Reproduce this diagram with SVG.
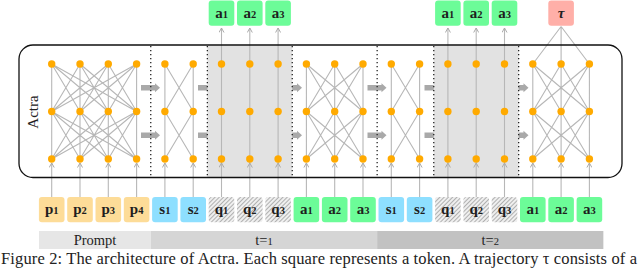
<svg xmlns="http://www.w3.org/2000/svg" xmlns:xlink="http://www.w3.org/1999/xlink" width="640" height="268" viewBox="0 0 640 268">
<defs>
<style>
.ln{stroke:#b7b7b7;stroke-width:1.1;fill:none}
.io{stroke:#b7b7b7;stroke-width:1.1;fill:none}
.nd{fill:#FFAA00}
.dot{stroke:#222;stroke-width:1.3;stroke-dasharray:1.3 2.7;fill:none}
.arr{fill:#a9a9a9}
.gr{fill:#e2e2e2}
.tk text{font-family:"Liberation Serif",serif;font-weight:bold;font-size:15px;fill:#1e1e1e;text-anchor:middle}
.tk tspan{font-size:10.5px}
.p{fill:#FDDC98}
.s{fill:#8EDFFF}
.a{fill:#6CFC98}
.q{fill:url(#hatch)}
.t{fill:#FFAFA8}
.bar text{font-family:"Liberation Serif",serif;font-size:14.5px;fill:#222;text-anchor:middle}
.bar tspan{font-size:10.5px}
</style>
<pattern id="hatch" width="3" height="3" patternUnits="userSpaceOnUse" patternTransform="rotate(45)">
<rect width="3" height="3" fill="#efefef"/>
<line x1="0.5" y1="0" x2="0.5" y2="3" stroke="#b0b0b0" stroke-width="1"/>
</pattern>
<marker id="chev" viewBox="0 0 6 6" refX="5" refY="3" markerWidth="6" markerHeight="6" markerUnits="userSpaceOnUse" orient="auto">
<path d="M0.5,0.5 L5,3 L0.5,5.5" fill="none" stroke="#aaaaaa" stroke-width="1"/>
</marker>
<path id="ar" d="M0,-2.7 H14 V-4.5 L19,0 L14,4.5 V2.7 H0 Z"/>
</defs>

<g id="flow-arrows" class="arr">
<use xlink:href="#ar" x="141" y="87.75"/><use xlink:href="#ar" x="141" y="135.25"/>
<use xlink:href="#ar" x="198" y="87.75"/><use xlink:href="#ar" x="198" y="135.25"/>
<use xlink:href="#ar" x="283" y="87.75"/><use xlink:href="#ar" x="283" y="135.25"/>
<use xlink:href="#ar" x="367.5" y="87.75"/><use xlink:href="#ar" x="367.5" y="135.25"/>
<use xlink:href="#ar" x="424.5" y="87.75"/><use xlink:href="#ar" x="424.5" y="135.25"/>
<use xlink:href="#ar" x="509.5" y="87.75"/><use xlink:href="#ar" x="509.5" y="135.25"/>
</g>

<g id="grey-regions">
<rect class="gr" x="207.35" y="45.5" width="84.9" height="131.5"/>
<rect class="gr" x="433.75" y="45.5" width="84.9" height="131.5"/>
</g>

<g id="separators">
<path class="dot" d="M150.75 46V176 M207.35 46V176 M292.25 46V176 M377.15 46V176 M433.75 46V176 M518.65 46V176"/>
</g>

<g id="connectors">
<path class="ln" d="M51.7 64L51.7 111.5M51.7 64L80 111.5M51.7 64L108.3 111.5M51.7 64L136.6 111.5M80 64L51.7 111.5M80 64L80 111.5M80 64L108.3 111.5M80 64L136.6 111.5M108.3 64L51.7 111.5M108.3 64L80 111.5M108.3 64L108.3 111.5M108.3 64L136.6 111.5M136.6 64L51.7 111.5M136.6 64L80 111.5M136.6 64L108.3 111.5M136.6 64L136.6 111.5
M51.7 111.5L51.7 159M51.7 111.5L80 159M51.7 111.5L108.3 159M51.7 111.5L136.6 159M80 111.5L51.7 159M80 111.5L80 159M80 111.5L108.3 159M80 111.5L136.6 159M108.3 111.5L51.7 159M108.3 111.5L80 159M108.3 111.5L108.3 159M108.3 111.5L136.6 159M136.6 111.5L51.7 159M136.6 111.5L80 159M136.6 111.5L108.3 159M136.6 111.5L136.6 159"/>
<path class="ln" d="M164.9 64V159M193.2 64V159M164.9 64L193.2 111.5M193.2 64L164.9 111.5M164.9 111.5L193.2 159M193.2 111.5L164.9 159"/>
<path class="ln" d="M306.4 64V159M334.7 64V159M363 64V159M306.4 64L334.7 111.5M306.4 64L363 111.5M334.7 64L306.4 111.5M334.7 64L363 111.5M363 64L306.4 111.5M363 64L334.7 111.5M306.4 111.5L334.7 159M306.4 111.5L363 159M334.7 111.5L306.4 159M334.7 111.5L363 159M363 111.5L306.4 159M363 111.5L334.7 159"/>
<path class="ln" d="M391.3 64V159M419.6 64V159M391.3 64L419.6 111.5M419.6 64L391.3 111.5M391.3 111.5L419.6 159M419.6 111.5L391.3 159"/>
<path class="ln" d="M532.8 64V159M561.1 64V159M589.4 64V159M532.8 64L561.1 111.5M532.8 64L589.4 111.5M561.1 64L532.8 111.5M561.1 64L589.4 111.5M589.4 64L532.8 111.5M589.4 64L561.1 111.5M532.8 111.5L561.1 159M532.8 111.5L589.4 159M561.1 111.5L532.8 159M561.1 111.5L589.4 159M589.4 111.5L532.8 159M589.4 111.5L561.1 159"/>
<path class="ln" d="M532.8 64L561.1 26.5M561.1 64L561.1 26.5M589.4 64L561.1 26.5"/>
<g class="io" marker-end="url(#chev)">
<path d="M51.7 197V163"/><path d="M80 197V163"/><path d="M108.3 197V163"/><path d="M136.6 197V163"/>
<path d="M164.9 197V163"/><path d="M193.2 197V163"/>
<path d="M306.4 197V163"/><path d="M334.7 197V163"/><path d="M363 197V163"/>
<path d="M391.3 197V163"/><path d="M419.6 197V163"/>
<path d="M532.8 197V163"/><path d="M561.1 197V163"/><path d="M589.4 197V163"/>
</g>
<g class="io" marker-mid="url(#chev)" marker-end="url(#chev)">
<path d="M221.5 197L221.5 163L221.5 28"/><path d="M249.8 197L249.8 163L249.8 28"/><path d="M278.1 197L278.1 163L278.1 28"/>
<path d="M447.9 197L447.9 163L447.9 28"/><path d="M476.2 197L476.2 163L476.2 28"/><path d="M504.5 197L504.5 163L504.5 28"/>
</g>
</g>

<g id="actra-nodes" class="nd">
<circle cx="51.7" cy="64" r="3.7"/><circle cx="80" cy="64" r="3.7"/><circle cx="108.3" cy="64" r="3.7"/><circle cx="136.6" cy="64" r="3.7"/><circle cx="164.9" cy="64" r="3.7"/><circle cx="193.2" cy="64" r="3.7"/><circle cx="221.5" cy="64" r="3.7"/><circle cx="249.8" cy="64" r="3.7"/><circle cx="278.1" cy="64" r="3.7"/><circle cx="306.4" cy="64" r="3.7"/><circle cx="334.7" cy="64" r="3.7"/><circle cx="363" cy="64" r="3.7"/><circle cx="391.3" cy="64" r="3.7"/><circle cx="419.6" cy="64" r="3.7"/><circle cx="447.9" cy="64" r="3.7"/><circle cx="476.2" cy="64" r="3.7"/><circle cx="504.5" cy="64" r="3.7"/><circle cx="532.8" cy="64" r="3.7"/><circle cx="561.1" cy="64" r="3.7"/><circle cx="589.4" cy="64" r="3.7"/>
<circle cx="51.7" cy="111.5" r="3.7"/><circle cx="80" cy="111.5" r="3.7"/><circle cx="108.3" cy="111.5" r="3.7"/><circle cx="136.6" cy="111.5" r="3.7"/><circle cx="164.9" cy="111.5" r="3.7"/><circle cx="193.2" cy="111.5" r="3.7"/><circle cx="221.5" cy="111.5" r="3.7"/><circle cx="249.8" cy="111.5" r="3.7"/><circle cx="278.1" cy="111.5" r="3.7"/><circle cx="306.4" cy="111.5" r="3.7"/><circle cx="334.7" cy="111.5" r="3.7"/><circle cx="363" cy="111.5" r="3.7"/><circle cx="391.3" cy="111.5" r="3.7"/><circle cx="419.6" cy="111.5" r="3.7"/><circle cx="447.9" cy="111.5" r="3.7"/><circle cx="476.2" cy="111.5" r="3.7"/><circle cx="504.5" cy="111.5" r="3.7"/><circle cx="532.8" cy="111.5" r="3.7"/><circle cx="561.1" cy="111.5" r="3.7"/><circle cx="589.4" cy="111.5" r="3.7"/>
<circle cx="51.7" cy="159" r="3.7"/><circle cx="80" cy="159" r="3.7"/><circle cx="108.3" cy="159" r="3.7"/><circle cx="136.6" cy="159" r="3.7"/><circle cx="164.9" cy="159" r="3.7"/><circle cx="193.2" cy="159" r="3.7"/><circle cx="221.5" cy="159" r="3.7"/><circle cx="249.8" cy="159" r="3.7"/><circle cx="278.1" cy="159" r="3.7"/><circle cx="306.4" cy="159" r="3.7"/><circle cx="334.7" cy="159" r="3.7"/><circle cx="363" cy="159" r="3.7"/><circle cx="391.3" cy="159" r="3.7"/><circle cx="419.6" cy="159" r="3.7"/><circle cx="447.9" cy="159" r="3.7"/><circle cx="476.2" cy="159" r="3.7"/><circle cx="504.5" cy="159" r="3.7"/><circle cx="532.8" cy="159" r="3.7"/><circle cx="561.1" cy="159" r="3.7"/><circle cx="589.4" cy="159" r="3.7"/>
</g>

<g id="actra-box">
<rect x="19" y="45" width="603" height="132.5" rx="14" fill="none" stroke="#111" stroke-width="1.3"/>
<text transform="translate(38,112) rotate(-90)" text-anchor="middle" font-family="'Liberation Serif',serif" font-size="15" fill="#222">Actra</text>
</g>

<g id="input-tokens" class="tk">
<g id="in-p1"><rect class="p" x="38.9" y="197" width="25.6" height="25.3" rx="3"/><text x="51.7" y="214">p<tspan>1</tspan></text></g>
<g id="in-p2"><rect class="p" x="67.2" y="197" width="25.6" height="25.3" rx="3"/><text x="80" y="214">p<tspan>2</tspan></text></g>
<g id="in-p3"><rect class="p" x="95.5" y="197" width="25.6" height="25.3" rx="3"/><text x="108.3" y="214">p<tspan>3</tspan></text></g>
<g id="in-p4"><rect class="p" x="123.8" y="197" width="25.6" height="25.3" rx="3"/><text x="136.6" y="214">p<tspan>4</tspan></text></g>
<g id="in-s1-t1"><rect class="s" x="152.1" y="197" width="25.6" height="25.3" rx="3"/><text x="164.9" y="214">s<tspan>1</tspan></text></g>
<g id="in-s2-t1"><rect class="s" x="180.4" y="197" width="25.6" height="25.3" rx="3"/><text x="193.2" y="214">s<tspan>2</tspan></text></g>
<g id="in-q1-t1"><rect class="q" x="208.7" y="197" width="25.6" height="25.3" rx="3"/><text x="221.5" y="214">q<tspan>1</tspan></text></g>
<g id="in-q2-t1"><rect class="q" x="237" y="197" width="25.6" height="25.3" rx="3"/><text x="249.8" y="214">q<tspan>2</tspan></text></g>
<g id="in-q3-t1"><rect class="q" x="265.3" y="197" width="25.6" height="25.3" rx="3"/><text x="278.1" y="214">q<tspan>3</tspan></text></g>
<g id="in-a1-t1"><rect class="a" x="293.6" y="197" width="25.6" height="25.3" rx="3"/><text x="306.4" y="214">a<tspan>1</tspan></text></g>
<g id="in-a2-t1"><rect class="a" x="321.9" y="197" width="25.6" height="25.3" rx="3"/><text x="334.7" y="214">a<tspan>2</tspan></text></g>
<g id="in-a3-t1"><rect class="a" x="350.2" y="197" width="25.6" height="25.3" rx="3"/><text x="363" y="214">a<tspan>3</tspan></text></g>
<g id="in-s1-t2"><rect class="s" x="378.5" y="197" width="25.6" height="25.3" rx="3"/><text x="391.3" y="214">s<tspan>1</tspan></text></g>
<g id="in-s2-t2"><rect class="s" x="406.8" y="197" width="25.6" height="25.3" rx="3"/><text x="419.6" y="214">s<tspan>2</tspan></text></g>
<g id="in-q1-t2"><rect class="q" x="435.1" y="197" width="25.6" height="25.3" rx="3"/><text x="447.9" y="214">q<tspan>1</tspan></text></g>
<g id="in-q2-t2"><rect class="q" x="463.4" y="197" width="25.6" height="25.3" rx="3"/><text x="476.2" y="214">q<tspan>2</tspan></text></g>
<g id="in-q3-t2"><rect class="q" x="491.7" y="197" width="25.6" height="25.3" rx="3"/><text x="504.5" y="214">q<tspan>3</tspan></text></g>
<g id="in-a1-t2"><rect class="a" x="520" y="197" width="25.6" height="25.3" rx="3"/><text x="532.8" y="214">a<tspan>1</tspan></text></g>
<g id="in-a2-t2"><rect class="a" x="548.3" y="197" width="25.6" height="25.3" rx="3"/><text x="561.1" y="214">a<tspan>2</tspan></text></g>
<g id="in-a3-t2"><rect class="a" x="576.6" y="197" width="25.6" height="25.3" rx="3"/><text x="589.4" y="214">a<tspan>3</tspan></text></g>
</g>

<g id="output-tokens" class="tk">
<g id="out-a1-t1"><rect class="a" x="208.7" y="0.5" width="25.6" height="25.3" rx="3"/><text x="221.5" y="17.5">a<tspan>1</tspan></text></g>
<g id="out-a2-t1"><rect class="a" x="237" y="0.5" width="25.6" height="25.3" rx="3"/><text x="249.8" y="17.5">a<tspan>2</tspan></text></g>
<g id="out-a3-t1"><rect class="a" x="265.3" y="0.5" width="25.6" height="25.3" rx="3"/><text x="278.1" y="17.5">a<tspan>3</tspan></text></g>
<g id="out-a1-t2"><rect class="a" x="435.1" y="0.5" width="25.6" height="25.3" rx="3"/><text x="447.9" y="17.5">a<tspan>1</tspan></text></g>
<g id="out-a2-t2"><rect class="a" x="463.4" y="0.5" width="25.6" height="25.3" rx="3"/><text x="476.2" y="17.5">a<tspan>2</tspan></text></g>
<g id="out-a3-t2"><rect class="a" x="491.7" y="0.5" width="25.6" height="25.3" rx="3"/><text x="504.5" y="17.5">a<tspan>3</tspan></text></g>
<g id="out-tau"><rect class="t" x="548.3" y="0.5" width="25.6" height="25.3" rx="3"/><text x="561.1" y="18" font-style="italic">τ</text></g>
</g>

<g id="segments" class="bar">
<g id="seg-prompt"><rect x="39" y="231" width="111.75" height="18" fill="#e6e6e6"/><text x="95" y="244.5">Prompt</text></g>
<g id="seg-t1"><rect x="150.75" y="231" width="226.4" height="18" fill="#d5d5d5"/><text x="263.9" y="244.5">t=<tspan>1</tspan></text></g>
<g id="seg-t2"><rect x="377.15" y="231" width="226.2" height="18" fill="#c2c2c2"/><text x="490.2" y="244.5">t=<tspan>2</tspan></text></g>
</g>

<text x="1" y="264" font-family="'Liberation Serif',serif" font-size="16.5" fill="#222" textLength="636" lengthAdjust="spacing">Figure 2: The architecture of Actra. Each square represents a token. A trajectory τ consists of a</text>
</svg>
